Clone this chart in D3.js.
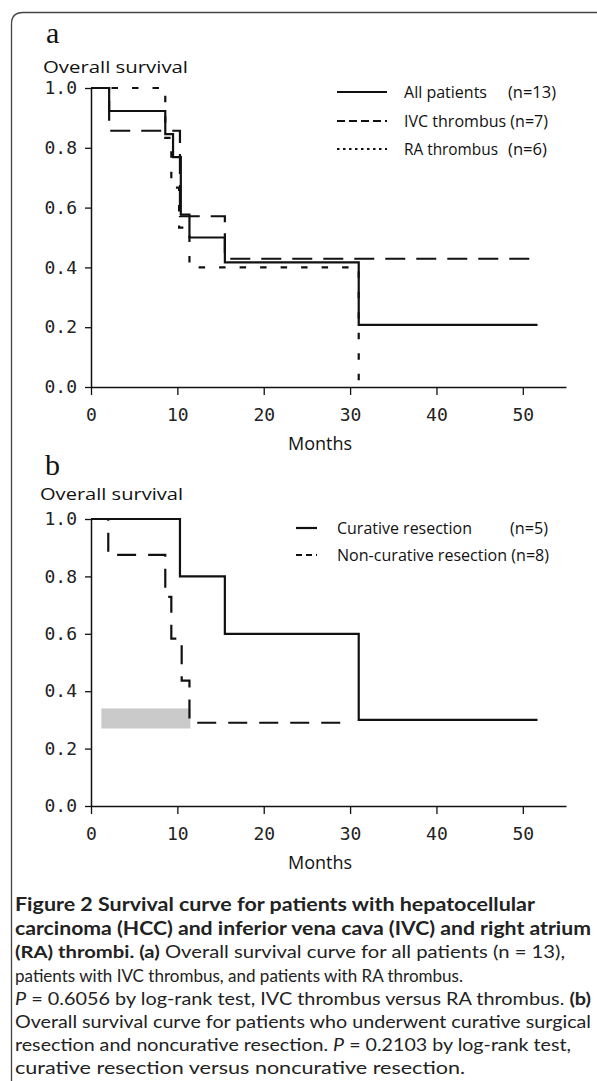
<!DOCTYPE html>
<html>
<head>
<meta charset="utf-8">
<script src="https://cdn.jsdelivr.net/npm/d3@7"></script>
<style>
  html, body { margin: 0; padding: 0; background: #fff; }
  svg { display: block; }
  .tick text { font-family: "DejaVu Sans Mono", monospace; font-size: 18px; fill: #222; }
  .lbl { font-family: "Open Sans", Lato, sans-serif; fill: #111; }
  .cap { font-family: Lato, "Open Sans", sans-serif; fill: #222; }
</style>
</head>
<body>
<script>
// ---------------- data ----------------
const monthTicks = [0, 10, 20, 30, 40, 50];
const survTicks = [0, 0.2, 0.4, 0.6, 0.8, 1.0];

// Panel a: Kaplan-Meier step points [month, survival]
const allMonths = [0, 2.1, 8.6, 9.5, 10.4, 11.4, 15.5, 31.0, 51.7];
const allSurv   = [1.0, 0.923, 0.846, 0.769, 0.577, 0.500, 0.417, 0.208, 0.208];
const ivcMonths = [0, 2.1, 10.3, 15.5, 51.7];
const ivcSurv   = [1.0, 0.857, 0.571, 0.429, 0.429];
const raMonths  = [0, 8.6, 9.3, 10.2, 11.4, 31.0];
const raSurv    = [1.0, 0.833, 0.667, 0.533, 0.400, 0.0];

// Panel b
const curMonths = [0, 10.3, 15.5, 31.0, 51.7];
const curSurv   = [1.0, 0.8, 0.6, 0.3, 0.3];
const nonMonths = [0, 2.0, 8.6, 9.3, 10.5, 11.4, 29.0];
const nonSurv   = [1.0, 0.875, 0.729, 0.583, 0.437, 0.29, 0.29];

const legendA = ["All patients", "IVC thrombus (n=7)", "RA thrombus"];
const legendANs = ["(n=13)", "", "(n=6)"];
const legendB = ["Curative resection", "Non-curative resection (n=8)"];
const legendBNs = ["(n=5)", ""];

const W = 597, H = 1081;
const svg = d3.select("body").append("svg").attr("width", W).attr("height", H);

// frame
svg.append("path")
  .attr("d", "M11.5,1081 L11.5,24 Q11.5,12.5 23,12.5 L597,12.5")
  .attr("fill", "none").attr("stroke", "#444").attr("stroke-width", 1.3);

function zip(ms, ss) { return ms.map((m, i) => [m, ss[i]]); }

function panel(cfg) {
  const x = d3.scaleLinear().domain([0, 55]).range([91, 566]);
  const y = d3.scaleLinear().domain([0, 1]).range([cfg.y0, cfg.y1]);
  const g = svg.append("g");

  const ya = d3.axisLeft(y).tickValues(survTicks).tickFormat(d3.format(".1f"))
    .tickSize(6).tickSizeOuter(0).tickPadding(8);
  const gy = g.append("g").attr("transform", "translate(91,0)").call(ya);
  const xa = d3.axisBottom(x).tickValues(monthTicks).tickFormat(d3.format("d"))
    .tickSize(8).tickSizeOuter(0).tickPadding(13);
  const gx = g.append("g").attr("transform", `translate(0,${cfg.y0})`).call(xa);
  [gx, gy].forEach(a => {
    a.selectAll("path, line").attr("stroke", "#111").attr("stroke-width", 1.3);
    a.select(".domain").attr("stroke-width", 1.5);
  });

  // panel letter
  g.append("text").attr("x", cfg.letterX).attr("y", cfg.letterY)
    .attr("font-family", "Liberation Serif, serif").attr("font-size", 30).attr("fill", "#111")
    .text(cfg.letter);
  g.append("text").attr("class", "lbl").attr("x", cfg.ovX).attr("y", cfg.ovY)
    .attr("font-size", 17).attr("textLength", cfg.ovLen).attr("lengthAdjust", "spacingAndGlyphs")
    .text("Overall survival");
  g.append("text").attr("class", "lbl").attr("x", 320).attr("y", cfg.monthsY)
    .attr("text-anchor", "middle").attr("font-size", 18).text("Months");

  if (cfg.smudge) {
    g.append("rect").attr("x", x(cfg.smudge[0])).attr("y", y(cfg.smudge[3]))
      .attr("width", x(cfg.smudge[1]) - x(cfg.smudge[0]))
      .attr("height", y(cfg.smudge[2]) - y(cfg.smudge[3]))
      .attr("fill", "#cacaca");
  }

  const line = d3.line().x(d => x(d[0])).y(d => y(d[1])).curve(d3.curveStepAfter);
  cfg.series.forEach(s => {
    g.append("path").datum(s.data).attr("d", line)
      .attr("fill", "none").attr("stroke", "#111").attr("stroke-width", 2.2)
      .attr("stroke-dasharray", s.dash || null);
  });

  // legend
  cfg.legend.forEach((l, i) => {
    const ly = cfg.legY[i];
    g.append("line").attr("x1", cfg.legX1).attr("x2", cfg.legX2).attr("y1", ly).attr("y2", ly)
      .attr("stroke", "#111").attr("stroke-width", 2.2).attr("stroke-dasharray", l.dash || null);
    g.append("text").attr("class", "lbl").attr("x", cfg.legTX).attr("y", ly + 6)
      .attr("font-size", 16).attr("textLength", l.len).attr("lengthAdjust", "spacingAndGlyphs")
      .text(l.label);
    if (l.n) g.append("text").attr("class", "lbl").attr("x", l.nx).attr("y", ly + 6)
      .attr("font-size", 16).attr("textLength", l.nlen).attr("lengthAdjust", "spacingAndGlyphs")
      .text(l.n);
  });
}

panel({
  y0: 387, y1: 88, letter: "a", letterX: 46, letterY: 43,
  ovX: 43, ovY: 73, ovLen: 145, monthsY: 450,
  series: [
    { data: zip(allMonths, allSurv) },
    { data: zip(ivcMonths, ivcSurv), dash: "20,11" },
    { data: zip(raMonths, raSurv), dash: "6.5,14" }
  ],
  legX1: 337, legX2: 387, legTX: 404, legY: [92, 121, 149],
  legend: [
    { label: legendA[0], n: legendANs[0], nx: 508, len: 83, nlen: 48 },
    { label: legendA[1], dash: "8,4", len: 144 },
    { label: legendA[2], n: legendANs[2], nx: 508, len: 94, nlen: 39, dash: "2.5,3.5" }
  ]
});

panel({
  y0: 806, y1: 519, letter: "b", letterX: 45, letterY: 475,
  ovX: 40, ovY: 500, ovLen: 143, monthsY: 869,
  smudge: [1.2, 11.5, 0.27, 0.34],
  series: [
    { data: zip(curMonths, curSurv) },
    { data: zip(nonMonths, nonSurv), dash: "19,12" }
  ],
  legX1: 296, legX2: 317, legTX: 337, legY: [528, 555],
  legend: [
    { label: legendB[0], n: legendBNs[0], nx: 510, nlen: 38, len: 135 },
    { label: legendB[1], dash: "6,4", len: 212 }
  ]
});

// caption
const capLines = [
  [{t: "Figure 2 Survival curve for patients with hepatocellular", b: 1}],
  [{t: "carcinoma (HCC) and inferior vena cava (IVC) and right atrium", b: 1}],
  [{t: "(RA) thrombi. (a)", b: 1}, {t: " Overall survival curve for all patients (n = 13),"}],
  [{t: "patients with IVC thrombus, and patients with RA thrombus."}],
  [{t: "P", i: 1}, {t: " = 0.6056 by log-rank test, IVC thrombus versus RA thrombus. "}, {t: "(b)", b: 1}],
  [{t: "Overall survival curve for patients who underwent curative surgical"}],
  [{t: "resection and noncurative resection. "}, {t: "P", i: 1}, {t: " = 0.2103 by log-rank test,"}],
  [{t: "curative resection versus noncurative resection."}]
];
const capY = [911, 935, 958, 982, 1005, 1028, 1051, 1074];
const capLen = [520, 576, 550, 448, 576, 576, 556, 450];
capLines.forEach((ln, i) => {
  const t = svg.append("text").attr("class", "cap").attr("x", 15).attr("y", capY[i])
    .attr("font-size", i < 2 ? 18 : 17)
    .attr("textLength", capLen[i]).attr("lengthAdjust", "spacingAndGlyphs");
  ln.forEach(s => {
    t.append("tspan").attr("font-weight", s.b ? 700 : 400)
      .attr("font-style", s.i ? "italic" : "normal").text(s.t);
  });
});
</script>
</body>
</html>
